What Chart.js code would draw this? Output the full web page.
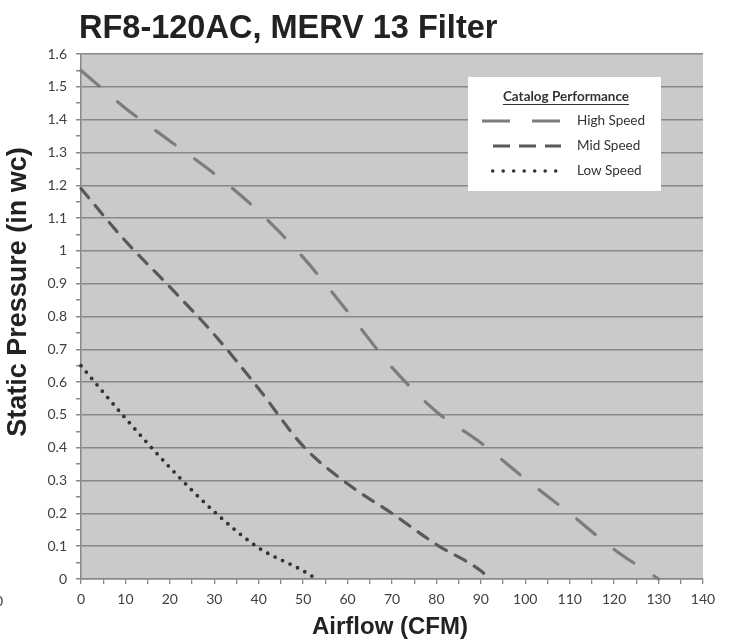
<!DOCTYPE html>
<html>
<head>
<meta charset="utf-8">
<title>RF8-120AC, MERV 13 Filter</title>
<script src="https://cdn.jsdelivr.net/npm/chart.js"></script>
<style>
    body { margin: 0; background: #fff; }
    #wrap { width: 733px; height: 641px; }
</style>
</head>
<body>
<div id="wrap"><canvas id="fanChart" width="733" height="641"></canvas></div>
<script>
// values
const chartTitle = 'RF8-120AC, MERV 13 Filter';
const xTitle = 'Airflow (CFM)';
const yTitle = 'Static Pressure (in wc)';
const legendTitle = 'Catalog Performance';

const highCfm = [0, 10, 20, 30, 40, 50, 60, 70, 80, 90, 100, 110, 120, 130];
const highSp  = [1.55, 1.435, 1.335, 1.235, 1.12, 0.98, 0.815, 0.645, 0.51, 0.415, 0.305, 0.2, 0.09, 0];

const midCfm = [0, 10, 20, 30, 40, 50, 60, 70, 80, 90, 92];
const midSp  = [1.19, 1.03, 0.89, 0.745, 0.58, 0.405, 0.29, 0.2, 0.105, 0.025, 0];

const lowCfm = [0, 10, 20, 30, 40, 50, 53];
const lowSp  = [0.65, 0.49, 0.34, 0.205, 0.095, 0.025, 0];

const xTickLabels = ['0', '10', '20', '30', '40', '50', '60', '70', '80', '90', '100', '110', '120', '130', '140'];
const yTickLabels = ['0', '0.1', '0.2', '0.3', '0.4', '0.5', '0.6', '0.7', '0.8', '0.9', '1', '1.1', '1.2', '1.3', '1.4', '1.5', '1.6'];

function pts(xs, ys) {
    return xs.map(function (x, i) { return { x: x, y: ys[i] }; });
}

// major ticks from the label arrays, a minor tick half way between each
function withMinor(labels) {
    const vals = labels.map(Number);
    const out = [];
    for (let i = 0; i < vals.length; i++) {
        out.push({ value: vals[i], major: true });
        if (i < vals.length - 1) out.push({ value: (vals[i] + vals[i + 1]) / 2, major: false });
    }
    return out;
}

const GRID = '#888888';
const TICKFONT = { family: 'Lato', size: 14 };

// grey plot area + page text
const backdrop = {
    id: 'backdrop',
    beforeDraw(chart) {
        const c = chart.ctx, a = chart.chartArea;
        c.save();
        c.fillStyle = '#fff';
        c.fillRect(0, 0, chart.width, chart.height);
        c.fillStyle = '#c9cacc';
        c.fillRect(a.left, a.top, a.right - a.left, a.bottom - a.top);
        c.restore();
    },
    afterDraw(chart) {
        const c = chart.ctx;
        c.save();
        c.fillStyle = '#222';
        c.font = 'bold 32.5px "Liberation Sans", Arial, sans-serif';
        c.textAlign = 'left';
        c.textBaseline = 'alphabetic';
        c.fillText(chartTitle, 79, 38);

        c.font = 'bold 24px "Liberation Sans", Arial, sans-serif';
        c.textAlign = 'center';
        c.fillText(xTitle, 390, 634);

        c.save();
        c.translate(19, 292);
        c.rotate(-Math.PI / 2);
        c.font = 'bold 27px "Liberation Sans", Arial, sans-serif';
        c.textBaseline = 'middle';
        c.fillText(yTitle, 0, 0);
        c.restore();

        // clipped label of a neighbouring chart at the left edge
        c.fillStyle = '#404040';
        c.font = '14px Lato';
        c.textAlign = 'center';
        c.textBaseline = 'middle';
        c.fillText('0', -1, 601);
        c.restore();
    }
};

// boxed legend like the original
const boxLegend = {
    id: 'boxLegend',
    afterDraw(chart) {
        const c = chart.ctx;
        const sample = [
            { dash: [28, 22], cap: 'butt', x0: 482, x1: 561, w: 3 },
            { dash: [17, 9], cap: 'butt', x0: 493, x1: 561, w: 3 },
            { dash: [0, 10.5], cap: 'round', x0: 492.7, x1: 557, w: 3.6 }
        ];
        c.save();
        c.fillStyle = '#fff';
        c.fillRect(468, 77, 193, 114);

        c.fillStyle = '#333';
        c.font = 'bold 13.5px Lato';
        c.textAlign = 'center';
        c.textBaseline = 'middle';
        c.fillText(legendTitle, 566, 97);
        const tw = c.measureText(legendTitle).width;
        c.strokeStyle = '#333';
        c.lineWidth = 1;
        c.beginPath();
        c.moveTo(566 - tw / 2, 104.5);
        c.lineTo(566 + tw / 2, 104.5);
        c.stroke();

        chart.data.datasets.forEach(function (ds, i) {
            const y = 121 + i * 25;
            const s = sample[i];
            c.strokeStyle = ds.borderColor;
            c.lineWidth = s.w;
            c.lineCap = s.cap;
            c.setLineDash(s.dash);
            c.beginPath();
            c.moveTo(s.x0, y);
            c.lineTo(s.x1, y);
            c.stroke();
            c.setLineDash([]);
            c.fillStyle = '#333';
            c.font = '13.5px Lato';
            c.textAlign = 'left';
            c.fillText(ds.label, 577, y);
        });
        c.restore();
    }
};

new Chart(document.getElementById('fanChart'), {
    type: 'line',
    data: {
        datasets: [
            {
                label: 'High Speed',
                data: pts(highCfm, highSp),
                borderColor: '#7d7d7d',
                borderWidth: 3.2,
                borderDash: [24, 24],
                borderCapStyle: 'round'
            },
            {
                label: 'Mid Speed',
                data: pts(midCfm, midSp),
                borderColor: '#595959',
                borderWidth: 3.2,
                borderDash: [12, 10],
                borderCapStyle: 'round'
            },
            {
                label: 'Low Speed',
                data: pts(lowCfm, lowSp),
                borderColor: '#333333',
                borderWidth: 3.8,
                borderDash: [0, 8.3],
                borderCapStyle: 'round'
            }
        ]
    },
    options: {
        responsive: false,
        animation: false,
        clip: false,
        layout: { padding: { top: 54, right: 30, left: 0, bottom: 0 } },
        elements: {
            point: { radius: 0 },
            line: { cubicInterpolationMode: 'monotone', fill: false }
        },
        plugins: {
            legend: { display: false },
            title: { display: false },
            tooltip: { enabled: false }
        },
        scales: {
            x: {
                type: 'linear',
                min: 0,
                max: 140,
                afterFit(s) { s.height = 62; },
                afterBuildTicks(s) { s.ticks = withMinor(xTickLabels); },
                ticks: {
                    autoSkip: false,
                    maxRotation: 0,
                    padding: 7,
                    color: '#404040',
                    font: TICKFONT,
                    callback(v, i) { return i % 2 === 0 ? xTickLabels[i / 2] : ''; }
                },
                grid: { drawOnChartArea: false, drawTicks: true, tickLength: 5, tickColor: GRID, lineWidth: 1.3 },
                border: { display: true, color: GRID, width: 1.5 }
            },
            y: {
                type: 'linear',
                min: 0,
                max: 1.6,
                afterFit(s) { s.width = 81; },
                afterBuildTicks(s) { s.ticks = withMinor(yTickLabels); },
                ticks: {
                    autoSkip: false,
                    padding: 9,
                    color: '#404040',
                    font: TICKFONT,
                    callback(v, i) { return i % 2 === 0 ? yTickLabels[i / 2] : ''; }
                },
                grid: {
                    drawTicks: true,
                    tickLength: 5,
                    tickColor: GRID,
                    lineWidth: 1.5,
                    color(ctx) { return ctx.tick && ctx.tick.major ? GRID : 'transparent'; }
                },
                border: { display: true, color: GRID, width: 1.5 }
            }
        }
    },
    plugins: [backdrop, boxLegend]
});
</script>
</body>
</html>
